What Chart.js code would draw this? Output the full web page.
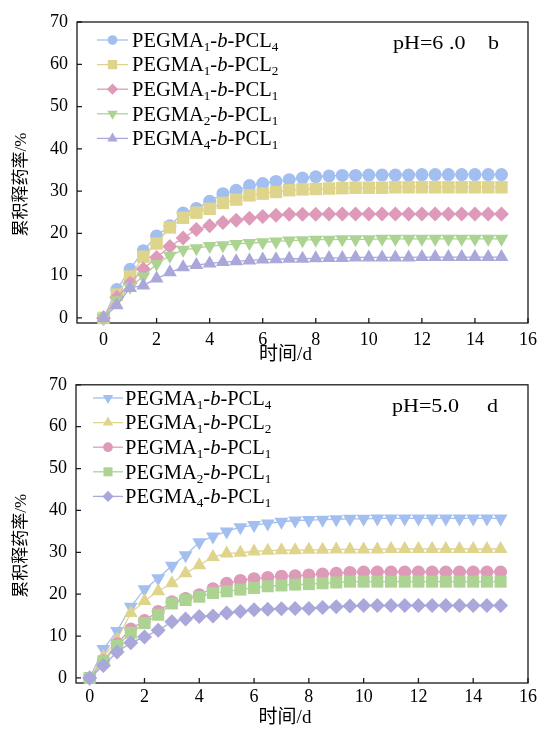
<!DOCTYPE html>
<html>
<head>
<meta charset="utf-8">
<script src="https://cdn.jsdelivr.net/npm/chart.js@4.4.1/dist/chart.umd.min.js"></script>
<style>
  html, body { margin: 0; padding: 0; background: #fff; }
  #wrap { position: relative; width: 545px; height: 731px; }
  .panel { position: absolute; left: 0; width: 545px; }
</style>
</head>
<body>
<div id="wrap">
  <div class="panel" style="top:0;height:365px"><canvas id="chartPH6" width="545" height="365"></canvas></div>
  <div class="panel" style="top:365px;height:366px"><canvas id="chartPH5" width="545" height="366"></canvas></div>
</div>
<script>
// Release time (days)
const days = [0, 0.5, 1, 1.5, 2, 2.5, 3, 3.5, 4, 4.5, 5, 5.5, 6, 6.5, 7, 7.5,
              8, 8.5, 9, 9.5, 10, 10.5, 11, 11.5, 12, 12.5, 13, 13.5, 14, 14.5, 15];

const seriesNames = ['PEGMA₁-b-PCL₄', 'PEGMA₁-b-PCL₂', 'PEGMA₁-b-PCL₁', 'PEGMA₂-b-PCL₁', 'PEGMA₄-b-PCL₁'];

const xTickValues = [0, 2, 4, 6, 8, 10, 12, 14, 16];
const yTickValues = [0, 10, 20, 30, 40, 50, 60, 70];

const xAxisTitle = '时间/d';
const yAxisTitle = '累积释药率/%';

// Cumulative release (%) at pH 6.0
const ph6_P1L4 = [0, 6.7, 11.5, 15.9, 19.4, 21.8, 24.8, 25.9, 27.6, 29.4,
                  30.2, 31.3, 31.8, 32.3, 32.7, 33.1, 33.4, 33.6, 33.7, 33.7,
                  33.8, 33.8, 33.8, 33.8, 33.9, 33.9, 33.9, 33.9, 33.9, 33.9, 33.9];
const ph6_P1L2 = [0, 5.5, 9.8, 14.5, 17.6, 21.4, 23.7, 24.9, 25.8, 27.2,
                  28.0, 29.0, 29.4, 29.8, 30.2, 30.4, 30.5, 30.6, 30.7, 30.8,
                  30.8, 30.8, 30.9, 30.9, 30.9, 30.9, 30.9, 30.9, 30.9, 30.9, 30.9];
const ph6_P1L1 = [0, 4.9, 8.2, 11.6, 14.3, 16.9, 18.9, 20.9, 21.8, 22.6,
                  23.1, 23.6, 24.0, 24.3, 24.5, 24.5, 24.5, 24.6, 24.6, 24.6,
                  24.6, 24.6, 24.6, 24.6, 24.6, 24.6, 24.6, 24.6, 24.6, 24.6, 24.6];
const ph6_P2L1 = [0, 4.2, 7.4, 9.8, 12.8, 14.7, 16.1, 16.5, 17.0, 17.2,
                  17.5, 17.7, 17.9, 18.1, 18.3, 18.4, 18.5, 18.5, 18.6, 18.6,
                  18.6, 18.7, 18.7, 18.7, 18.7, 18.7, 18.7, 18.7, 18.7, 18.7, 18.7];
const ph6_P4L1 = [0, 3.0, 7.1, 7.7, 9.3, 10.8, 12.0, 12.5, 12.9, 13.2,
                  13.4, 13.6, 13.8, 13.9, 14.0, 14.0, 14.1, 14.2, 14.2, 14.3,
                  14.3, 14.3, 14.3, 14.3, 14.4, 14.4, 14.4, 14.4, 14.4, 14.4, 14.4];

// Cumulative release (%) at pH 5.0
const ph5_P1L4 = [0, 6.9, 11.2, 17.0, 21.2, 23.8, 26.8, 29.3, 32.4, 33.8,
                  35.0, 36.0, 36.5, 36.9, 37.3, 37.6, 37.7, 37.8, 37.9, 38.0,
                  38.0, 38.1, 38.1, 38.1, 38.1, 38.1, 38.1, 38.1, 38.1, 38.1, 38.1];
const ph5_P1L2 = [0, 5.0, 9.2, 15.5, 18.4, 20.7, 22.6, 25.0, 26.9, 28.9,
                  29.7, 29.9, 30.2, 30.4, 30.5, 30.5, 30.6, 30.6, 30.7, 30.7,
                  30.7, 30.7, 30.8, 30.8, 30.8, 30.8, 30.8, 30.8, 30.8, 30.8, 30.8];
const ph5_P1L1 = [0, 4.1, 8.2, 11.7, 13.7, 15.9, 18.2, 19.0, 19.9, 21.3,
                  22.6, 23.3, 23.7, 24.0, 24.3, 24.4, 24.6, 24.8, 25.0, 25.2,
                  25.3, 25.3, 25.3, 25.3, 25.3, 25.3, 25.3, 25.3, 25.3, 25.3, 25.3];
const ph5_P2L1 = [0, 4.0, 7.7, 10.8, 13.1, 15.1, 17.8, 18.6, 19.4, 20.3,
                  20.7, 21.1, 21.5, 21.9, 22.1, 22.3, 22.4, 22.6, 22.8, 23.0,
                  23.0, 23.0, 23.0, 23.0, 23.0, 23.0, 23.0, 23.0, 23.0, 23.0, 23.0];
const ph5_P4L1 = [0, 3.0, 6.2, 8.4, 9.8, 11.4, 13.4, 14.1, 14.7, 14.8,
                  15.5, 15.9, 16.3, 16.4, 16.5, 16.6, 16.6, 16.8, 17.0, 17.2,
                  17.3, 17.3, 17.3, 17.3, 17.3, 17.3, 17.3, 17.3, 17.3, 17.3, 17.3];

const COLORS = ['#a2bff0', '#dfd48c', '#dd9bb9', '#acd392', '#aaa7da'];
const FAMILY = "'Liberation Serif', 'Noto Sans CJK SC', serif";
const INK = '#1a1a1a';

// Frame around the plot area plus inward tick marks on the left and bottom axes
const framePlugin = {
  id: 'frame',
  beforeDatasetsDraw(chart) {
    const { ctx, chartArea: a, scales: { x, y } } = chart;
    ctx.save();
    ctx.strokeStyle = INK;
    ctx.lineWidth = 1.3;
    ctx.strokeRect(a.left, a.top, a.right - a.left, a.bottom - a.top);
    ctx.beginPath();
    x.ticks.forEach(t => {
      const px = x.getPixelForValue(t.value);
      ctx.moveTo(px, a.bottom);
      ctx.lineTo(px, a.bottom - 5);
    });
    y.ticks.forEach(t => {
      const py = y.getPixelForValue(t.value);
      ctx.moveTo(a.left, py);
      ctx.lineTo(a.left + 5, py);
    });
    ctx.stroke();
    ctx.restore();
  }
};

// Writes a label, turning ₀-₉ into lowered small digits and the "b" of "-b-" into italic
function drawRichText(ctx, str, x, baseY, fs) {
  const chars = [...str];
  const subs = '₀₁₂₃₄₅₆₇₈₉';
  let cx = x;
  chars.forEach((ch, i) => {
    const si = subs.indexOf(ch);
    let text = ch, dy = 0;
    if (si >= 0) {
      text = String(si);
      ctx.font = `${fs * 0.64}px ${FAMILY}`;
      dy = fs * 0.2;
    } else if (ch === 'b' && chars[i - 1] === '-' && chars[i + 1] === '-') {
      ctx.font = `italic ${fs}px ${FAMILY}`;
    } else {
      ctx.font = `${fs}px ${FAMILY}`;
    }
    ctx.fillText(text, cx, baseY + dy);
    cx += ctx.measureText(text).width;
  });
}

// Axis titles, legend with line-through markers, and the pH / panel annotation
const annotPlugin = {
  id: 'annot',
  afterDatasetsDraw(chart, args, opts) {
    const { ctx, chartArea: a } = chart;
    ctx.save();
    ctx.fillStyle = '#000';

    // axis titles
    ctx.textAlign = 'center';
    ctx.textBaseline = 'middle';
    ctx.font = `19px ${FAMILY}`;
    ctx.fillText(xAxisTitle, (a.left + a.right) / 2 - 17, a.bottom + opts.xTitleGap);
    ctx.save();
    ctx.translate(22, (a.top + a.bottom) / 2 + 12);
    ctx.rotate(-Math.PI / 2);
    ctx.font = `17px ${FAMILY}`;
    ctx.fillText(yAxisTitle, 0, 0);
    ctx.restore();

    // legend
    ctx.textAlign = 'left';
    ctx.textBaseline = 'alphabetic';
    chart.data.datasets.forEach((ds, i) => {
      const cy = opts.legendTop + i * opts.rowGap;
      ctx.strokeStyle = ds.borderColor;
      ctx.lineWidth = 1.3;
      ctx.beginPath();
      ctx.moveTo(opts.lineX0, cy);
      ctx.lineTo(opts.lineX1, cy);
      ctx.stroke();
      ctx.fillStyle = ds.pointBackgroundColor;
      ctx.strokeStyle = ds.pointBorderColor;
      Chart.helpers.drawPoint(ctx, {
        pointStyle: ds.pointStyle,
        rotation: ds.pointRotation || 0,
        radius: ds.pointRadius * 0.75,
        borderWidth: 0
      }, (opts.lineX0 + opts.lineX1) / 2, cy);
      ctx.fillStyle = '#000';
      drawRichText(ctx, ds.label, opts.textX, cy + opts.fontSize * 0.33, opts.fontSize);
    });

    // pH condition and panel letter (slightly widened serif face)
    ctx.font = `19px ${FAMILY}`;
    ctx.save();
    ctx.translate(opts.noteX, opts.noteY);
    ctx.scale(1.16, 1);
    ctx.fillText(opts.note, 0, 0);
    ctx.restore();
    ctx.save();
    ctx.translate(opts.panelX, opts.noteY);
    ctx.scale(1.16, 1);
    ctx.fillText(opts.panel, 0, 0);
    ctx.restore();
    ctx.restore();
  }
};

function buildChart(canvasId, cfg) {
  const tickFont = { family: FAMILY, size: 18 };
  return new Chart(document.getElementById(canvasId), {
    type: 'line',
    data: {
      datasets: cfg.series.map((vals, i) => ({
        label: seriesNames[i],
        data: days.map((d, k) => ({ x: d, y: vals[k] })),
        borderColor: COLORS[i],
        backgroundColor: COLORS[i],
        pointBackgroundColor: COLORS[i],
        pointBorderColor: COLORS[i],
        pointBorderWidth: 0,
        borderWidth: 1.3,
        pointStyle: cfg.styles[i].shape,
        pointRotation: cfg.styles[i].rot || 0,
        pointRadius: cfg.styles[i].r,
        tension: 0,
        clip: false,
        order: 5 - i
      }))
    },
    options: {
      responsive: false,
      animation: false,
      events: [],
      layout: { padding: { top: cfg.padTop, right: 17, left: 0, bottom: 0 } },
      plugins: {
        legend: { display: false },
        tooltip: { enabled: false },
        annot: cfg.annot
      },
      scales: {
        x: {
          type: 'linear',
          min: cfg.xMin,
          max: 16,
          afterBuildTicks: s => { s.ticks = xTickValues.map(v => ({ value: v })); },
          afterFit: s => { s.height = cfg.xHeight; },
          grid: { display: false, drawTicks: false },
          border: { display: false },
          ticks: { font: tickFont, color: '#000', padding: cfg.xTickPad, maxRotation: 0, autoSkip: false }
        },
        y: {
          type: 'linear',
          min: -1.2,
          max: 70,
          afterBuildTicks: s => { s.ticks = yTickValues.map(v => ({ value: v })); },
          afterFit: s => { s.width = cfg.yWidth; },
          grid: { display: false, drawTicks: false },
          border: { display: false },
          ticks: { font: tickFont, color: '#000', padding: 9 }
        }
      }
    },
    plugins: [framePlugin, annotPlugin]
  });
}

buildChart('chartPH6', {
  series: [ph6_P1L4, ph6_P1L2, ph6_P1L1, ph6_P2L1, ph6_P4L1],
  styles: [
    { shape: 'circle', r: 6.5 },
    { shape: 'rect', r: 8.8 },
    { shape: 'rectRot', r: 7.5 },
    { shape: 'triangle', r: 8, rot: 180 },
    { shape: 'triangle', r: 8 }
  ],
  xMin: -1,
  padTop: 22,
  xHeight: 42,
  yWidth: 77,
  xTickPad: 6,
  annot: {
    xTitleGap: 32,
    legendTop: 40, rowGap: 24.6, lineX0: 97, lineX1: 128, textX: 132, fontSize: 20.5,
    note: 'pH=6 .0', panel: 'b', noteX: 393, panelX: 488, noteY: 49
  }
});

buildChart('chartPH5', {
  series: [ph5_P1L4, ph5_P1L2, ph5_P1L1, ph5_P2L1, ph5_P4L1],
  styles: [
    { shape: 'triangle', r: 8, rot: 180 },
    { shape: 'triangle', r: 8 },
    { shape: 'circle', r: 6.5 },
    { shape: 'rect', r: 8.5 },
    { shape: 'rectRot', r: 7.5 }
  ],
  xMin: -0.5,
  padTop: 15,
  xHeight: 48,
  yWidth: 76,
  xTickPad: 3,
  annot: {
    xTitleGap: 35,
    legendTop: 33, rowGap: 24.6, lineX0: 93, lineX1: 123, textX: 125, fontSize: 20.5,
    note: 'pH=5.0', panel: 'd', noteX: 392, panelX: 487, noteY: 47
  }
});
</script>
</body>
</html>
